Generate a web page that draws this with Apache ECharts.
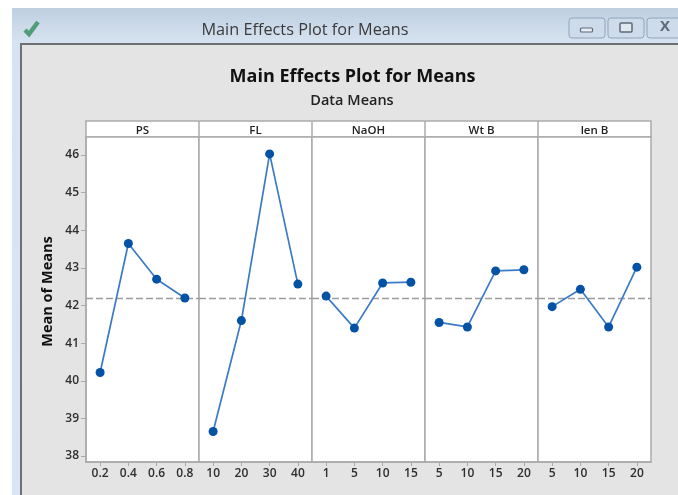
<!DOCTYPE html>
<html><head><meta charset="utf-8">
<style>html,body{margin:0;padding:0;background:#fff}#c{width:678px;height:495px}</style>
<script src="https://cdn.jsdelivr.net/npm/echarts@6/dist/echarts.min.js"></script>
</head><body><div id="c"></div>
<script>
var panelNames = ['PS','FL','NaOH','Wt B','len B'];
var catsPS = ['0.2','0.4','0.6','0.8'];
var catsFL = ['10','20','30','40'];
var catsNaOH = ['1','5','10','15'];
var catsWt = ['5','10','15','20'];
var catsLen = ['5','10','15','20'];
var valsPS = [40.22,43.65,42.70,42.20];
var valsFL = [38.65,41.60,46.03,42.57];
var valsNaOH = [42.25,41.40,42.60,42.62];
var valsWt = [41.55,41.43,42.92,42.95];
var valsLen = [41.97,42.43,41.43,43.02];
var grandMean = 42.2;
var yTicks = [38,39,40,41,42,43,44,45,46];

var allCats = [catsPS,catsFL,catsNaOH,catsWt,catsLen];
var allVals = [valsPS,valsFL,valsNaOH,valsWt,valsLen];
var edges = [86,199,312,425,538,651];
var top_ = 137, bottom_ = 462;
var gray = '#ababab', txt = '#2e2e2e';
var font = '"Open Sans","Noto Sans",sans-serif';

var grids=[],xs=[],ys=[],series=[],titles=[];
panelNames.forEach(function(n,i){
  grids.push({left:edges[i],width:edges[i+1]-edges[i],top:top_,height:bottom_-top_,show:true,backgroundColor:'#fff',borderColor:gray,borderWidth:1.5});
  xs.push({type:'category',gridIndex:i,data:allCats[i],boundaryGap:true,
    axisLine:{lineStyle:{color:gray,width:1.5}},
    axisTick:{show:true,alignWithLabel:true,length:4,lineStyle:{color:gray,width:1}},
    axisLabel:{color:txt,fontSize:12,fontFamily:font,margin:6,interval:0,fontWeight:600},splitLine:{show:false}});
  ys.push({type:'value',gridIndex:i,min:37.84,max:46.48,interval:1,
    axisLine:{show:i===0,lineStyle:{color:gray,width:1.5}},
    axisTick:{show:i===0,length:5,lineStyle:{color:gray,width:1},customValues:yTicks},
    axisLabel:{show:i===0,color:txt,fontSize:12,fontFamily:font,margin:7,fontWeight:600,customValues:yTicks},
    splitLine:{show:false},
    name:i===0?'Mean of Means':'',nameLocation:'middle',nameGap:31,nameRotate:90,
    nameTextStyle:{color:'#111',fontSize:14.5,fontWeight:'bold',fontFamily:font,padding:[0,0,0,16]}});
  series.push({type:'line',xAxisIndex:i,yAxisIndex:i,data:allVals[i],symbol:'circle',symbolSize:9,
    lineStyle:{color:'#3b7bc6',width:1.7},itemStyle:{color:'#0352a6'},animation:false,z:5,
    markLine:{silent:true,symbol:'none',animation:false,label:{show:false},
      lineStyle:{color:'#9c9c9c',type:[7,3],width:1.4},data:[{yAxis:grandMean}]}});
  titles.push({text:n,left:(edges[i]+edges[i+1])/2-5,top:120,textAlign:'center',
    textStyle:{color:'#222',fontSize:11.5,fontWeight:600,fontFamily:font}});
});
titles.push({text:'Main Effects Plot for Means',left:347.5,top:63,textAlign:'center',textStyle:{color:'#111',fontSize:18,fontWeight:'bold',fontFamily:font}});
titles.push({text:'Data Means',left:347,top:88,textAlign:'center',textStyle:{color:'#222',fontSize:14.5,fontWeight:600,fontFamily:font}});
titles.push({text:'Main Effects Plot for Means',left:300,top:17,textAlign:'center',textStyle:{color:'#3a3a3a',fontSize:16.3,fontWeight:'normal',fontFamily:font}});

var graphic=[
 {type:'rect',z:-5,shape:{x:12,y:8,width:680,height:500},style:{fill:{type:'linear',x:0,y:0,x2:0,y2:1,colorStops:[{offset:0,color:'#bfcfe1'},{offset:0.07,color:'#d6e3f0'},{offset:1,color:'#d8e6f3'}]}}},
 {type:'rect',z:-4,shape:{x:21,y:44,width:680,height:470},style:{fill:'#e4e4e4',stroke:'#6f7072',lineWidth:2}},
 {type:'rect',z:-3,shape:{x:86,y:121,width:565,height:16},style:{fill:'#fff',stroke:gray,lineWidth:1.5}},
 {type:'polyline',z:-3,shape:{points:[[25,30],[29,34],[38,22]]},style:{stroke:'#4f9e78',lineWidth:4.5,fill:'none'}}
];
[[569,36],[608,36],[647,40]].forEach(function(b){
  graphic.push({type:'rect',z:-3,shape:{x:b[0],y:18,width:b[1],height:20,r:3},style:{fill:'#cddbea',stroke:'#93a5bb',lineWidth:1}});
});
for(var i=1;i<5;i++) graphic.push({type:'line',z:-2,shape:{x1:edges[i],y1:121,x2:edges[i],y2:137},style:{stroke:gray,lineWidth:1.5}});
graphic.push({type:'rect',z:-2,shape:{x:580.5,y:28,width:12,height:4,r:1},style:{fill:'#e8eef5',stroke:'#5f6a78',lineWidth:1.2}});
graphic.push({type:'rect',z:-2,shape:{x:620,y:23,width:12,height:9,r:1},style:{fill:'#dfe7f0',stroke:'#5f6a78',lineWidth:1.5}});
graphic.push({type:'text',z:-2,style:{x:660,y:19,text:'X',fill:'#5f6a78',font:'bold 15px '+font}});

var chart=echarts.init(document.getElementById('c'),null,{renderer:'canvas'});
chart.setOption({animation:false,backgroundColor:'#fff',title:titles,grid:grids,xAxis:xs,yAxis:ys,series:series,graphic:graphic});
</script></body></html>
